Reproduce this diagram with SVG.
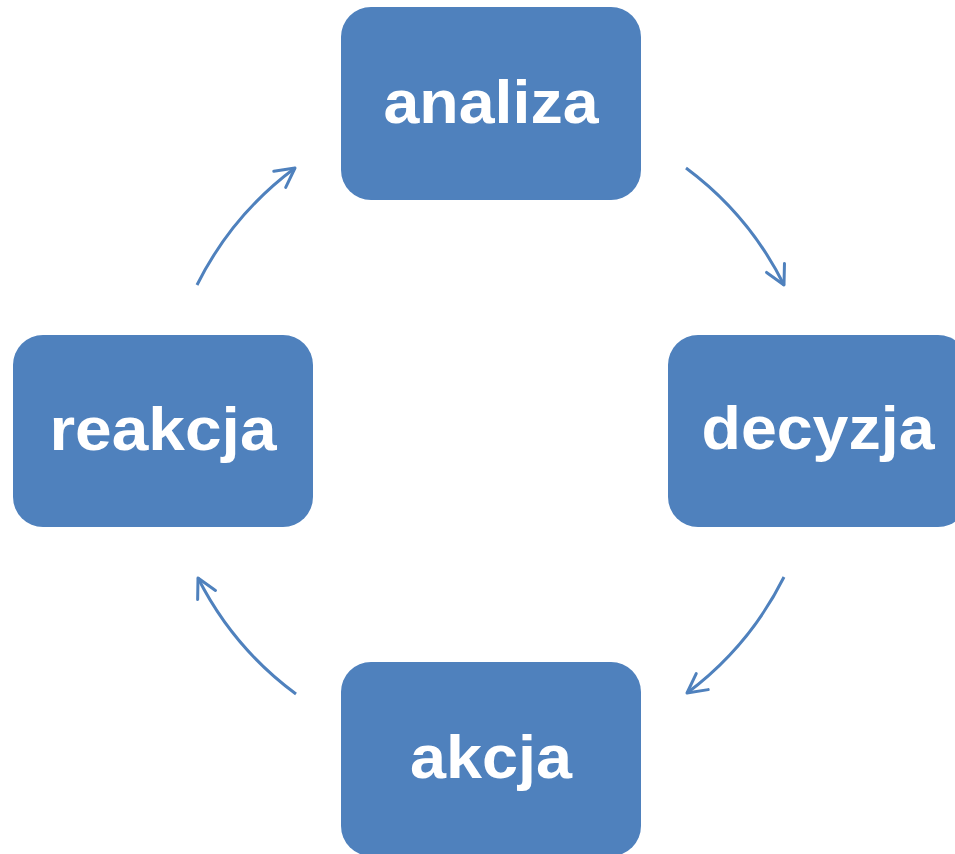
<svg xmlns="http://www.w3.org/2000/svg" width="955" height="854" viewBox="0 0 955 854">
<style>
.box{fill:#4F81BD}
.lbl{fill:#fff;font-family:"Liberation Sans",Arial,sans-serif;font-weight:bold;font-size:62px;text-anchor:middle}
.arc{fill:none;stroke:#4F81BD;stroke-width:3;marker-end:url(#ah)}
</style>
<defs>
<marker id="ah" markerUnits="userSpaceOnUse" viewBox="-22 -12 26 24" refX="0" refY="0" markerWidth="26" markerHeight="24" orient="auto" overflow="visible">
<path d="M-19,-10 L0,0 L-19,10" fill="none" stroke="#4F81BD" stroke-width="3" stroke-linecap="round" stroke-linejoin="round"/>
</marker>
</defs>
<rect width="955" height="854" fill="#fff"/>
<g id="connectors">
<path class="arc" d="M686,168 A328,328 0 0 1 784,285"/>
<path class="arc" d="M784,577 A328,328 0 0 1 687,693"/>
<path class="arc" d="M296,694 A328,328 0 0 1 198,578"/>
<path class="arc" d="M197,285 A328,328 0 0 1 295,168"/>
</g>
<g id="analiza">
<rect class="box" x="341" y="7" width="300" height="193" rx="30"/>
<text class="lbl" x="491" y="123" textLength="215" lengthAdjust="spacingAndGlyphs">analiza</text>
</g>
<g id="decyzja">
<rect class="box" x="668" y="335" width="300" height="192" rx="30"/>
<text class="lbl" x="818" y="449" textLength="233" lengthAdjust="spacingAndGlyphs">decyzja</text>
</g>
<g id="akcja">
<rect class="box" x="341" y="662" width="300" height="194" rx="30"/>
<text class="lbl" x="491" y="778" textLength="162" lengthAdjust="spacingAndGlyphs">akcja</text>
</g>
<g id="reakcja">
<rect class="box" x="13" y="335" width="300" height="192" rx="30"/>
<text class="lbl" x="163" y="450" textLength="227" lengthAdjust="spacingAndGlyphs">reakcja</text>
</g>
</svg>
